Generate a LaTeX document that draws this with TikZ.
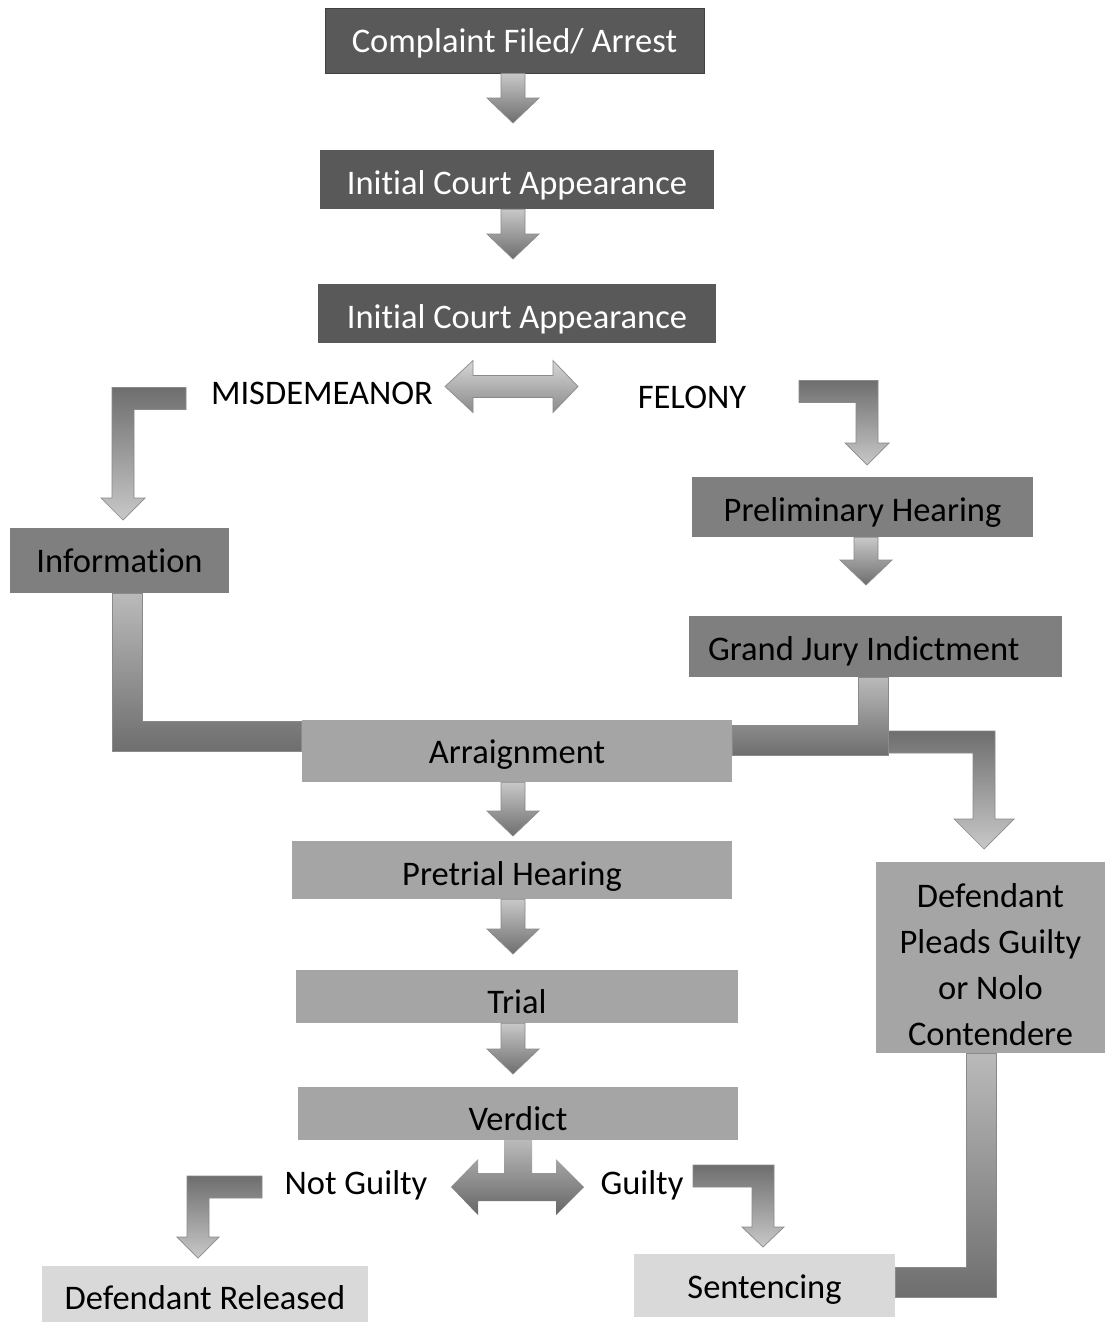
\documentclass[tikz,border=0pt]{standalone}
\usepackage{fontspec}
\setmainfont{Carlito}[Ligatures={NoCommon}]
\usetikzlibrary{calc}

\definecolor{boxdark}{HTML}{595959}
\definecolor{boxdarkline}{HTML}{3F3F3F}
\definecolor{boxmid}{HTML}{7F7F7F}
\definecolor{boxlight}{HTML}{A5A5A5}
\definecolor{boxpale}{HTML}{D9D9D9}
\definecolor{arrowline}{HTML}{8A8A8A}
\definecolor{shLight}{HTML}{C8C8C8}
\definecolor{shPale}{HTML}{D6D6D6}
\definecolor{shMid}{HTML}{BABABA}
\definecolor{shDark}{HTML}{6E6E6E}
\definecolor{shDeep}{HTML}{666666}

\tikzset{
  boxbase/.style={rectangle, inner sep=0pt, font=\fontsize{34.5}{46}\selectfont},
  % #1 moves the text baseline down by that many points
  box/.style={boxbase, text height={29pt+#1}, text depth={7pt-#1}},
  box/.default=0pt,
  darkbox/.style={box=#1, fill=boxdark, text=white},
  darkbox/.default=0pt,
  midbox/.style={box=#1, fill=boxmid},
  midbox/.default=0pt,
  lightbox/.style={box=#1, fill=boxlight},
  lightbox/.default=0pt,
  palebox/.style={box=#1, fill=boxpale},
  palebox/.default=0pt,
  lbl/.style={inner sep=0pt, font=\fontsize{34.5}{40}\selectfont, text height=29pt, text depth=7pt},
  downshade/.style={top color=shLight, bottom color=shDark, draw=arrowline, line width=0.7pt},
  bendshade/.style={top color=shDark, bottom color=shLight, draw=arrowline, line width=0.7pt},
  elbowshade/.style={top color=shMid, bottom color=shDark, draw=arrowline, line width=0.7pt},
  dblshade/.style={top color=shPale, bottom color=arrowline, draw=arrowline, line width=0.7pt},
  splitshade/.style={top color=shMid, bottom color=shDeep},
}

% straight block arrow going down from a box to a tip point
\newcommand\flowdown[2]{%
  \path[downshade] let \p1=(#1.south), \p2=(#2) in
    ({\x2-12pt},\y1) -- ({\x2+12pt},\y1) -- ({\x2+12pt},{\y2+25pt})
    -- ({\x2+26pt},{\y2+25pt}) -- (\x2,\y2) -- ({\x2-26pt},{\y2+25pt})
    -- ({\x2-12pt},{\y2+25pt}) -- cycle;}

% bent block arrow: horizontal bar from #2, turning down to the tip #3;
% #4 = -1 (bar runs left) or 1 (bar runs right), #5 head half-width, #6 head length
\newcommand\flowbend[6][]{%
  \path[bendshade,#1] let \p1=(#2), \p2=(#3) in
    (\x1,{\y1+11pt}) -- ({\x2+(#4)*11pt},{\y1+11pt}) -- ({\x2+(#4)*11pt},{\y2+#6})
    -- ({\x2+(#4)*#5},{\y2+#6}) -- (\x2,\y2) -- ({\x2-(#4)*#5},{\y2+#6})
    -- ({\x2-(#4)*11pt},{\y2+#6}) -- ({\x2-(#4)*11pt},{\y1-11pt}) -- (\x1,{\y1-11pt}) -- cycle;}

\begin{document}
\begin{tikzpicture}[x=1pt,y=-1pt]
\useasboundingbox (0,0) rectangle (1105,1322);
\fill[white] (0,0) rectangle (1105,1322);

% ---- boxes ----
\node[darkbox=1pt, draw=boxdarkline, line width=0.8pt, minimum width=379pt, minimum height=65pt] (cfa) at (514.5,40.5) {Complaint Filed/ Arrest};
\node[darkbox=4pt, minimum width=394pt, minimum height=59pt] (ica1) at (517,179.5) {Initial Court Appearance};
\node[darkbox=4pt, minimum width=398pt, minimum height=59pt] (ica2) at (517,313.5) {Initial Court Appearance};

\node[lbl] (mis) at (322,393) {MISDEMEANOR};
\node[lbl] (fel) at (692,397) {FELONY};

\node[midbox=1pt, minimum width=219pt, minimum height=65pt] (info) at (119.5,560.5) {Information};
\node[midbox=3pt, minimum width=341pt, minimum height=60pt] (prelim) at (862.5,507) {Preliminary Hearing};
\node[midbox=2.5pt, text width=335pt, inner xsep=19pt, align=left, minimum height=61pt] (gj) at (875.5,646.5)
  {\spaceskip=0pt\xspaceskip=0pt\relax Grand Jury Indictment};

\node[lightbox=1pt, minimum width=430pt, minimum height=62pt] (arr) at (517,751) {Arraignment};
\node[lightbox=4pt, minimum width=440pt, minimum height=58pt] (pre) at (512,870) {Pretrial Hearing};
\node[lightbox=5.5pt, minimum width=442pt, minimum height=53pt] (trial) at (517,996.5) {Trial};
\node[lightbox=6pt, minimum width=440pt, minimum height=53pt] (verdict) at (518,1113.5) {Verdict};
\node[boxbase, fill=boxlight, align=center, minimum width=229pt, minimum height=191pt] (def) at (990.5,957.5)
  {\rule{0pt}{38pt}Defendant\\Pleads Guilty\\or Nolo\\Contendere};

\node[lbl] (ng) at (356,1183) {Not Guilty};
\node[lbl] (g) at (642,1183) {Guilty};

\node[palebox, minimum width=326pt, minimum height=64pt] (rel) at (205,1298) {Defendant Released};
\node[palebox=1.5pt, minimum width=261pt, minimum height=63pt] (sent) at (764.5,1285.5) {Sentencing};

% ---- arrow end points ----
\coordinate (tCI) at (513,123);
\coordinate (tII) at (513,259);
\coordinate (tPG) at (866,585);
\coordinate (tAP) at (513,836);
\coordinate (tPT) at (513,954);
\coordinate (tTV) at (513,1074);

\coordinate (misbar) at (186,398.5);
\coordinate (mistip) at (123,520);
\coordinate (felbar) at (799,391.5);
\coordinate (feltip) at (867,465);
\coordinate (ngbar) at (262,1187);
\coordinate (ngtip) at (198,1258);
\coordinate (gbar) at (693,1176);
\coordinate (gtip) at (763,1247);
\coordinate (adtip) at (984,849);

\coordinate (dl) at (445,386.5);
\coordinate (dr) at (578,386.5);
\coordinate (vdl) at (451,1187);
\coordinate (vdr) at (584,1187);

\coordinate (bendI) at (127,736.5);
\coordinate (bendG) at (873,740);
\coordinate (bendD) at (981.5,1282.5);

% ---- straight arrows ----
\flowdown{cfa}{tCI}
\flowdown{ica1}{tII}
\flowdown{prelim}{tPG}
\flowdown{arr}{tAP}
\flowdown{pre}{tPT}
\flowdown{trial}{tTV}

% ---- misdemeanor / felony split ----
\path[dblshade] let \p1=(dl), \p2=(dr) in
  (\x1,\y1) -- ({\x1+28pt},{\y1+26pt}) -- ({\x1+28pt},{\y1+11pt}) -- ({\x2-25pt},{\y1+11pt})
  -- ({\x2-25pt},{\y1+26pt}) -- (\x2,\y1) -- ({\x2-25pt},{\y1-26pt}) -- ({\x2-25pt},{\y1-11pt})
  -- ({\x1+28pt},{\y1-11pt}) -- ({\x1+28pt},{\y1-26pt}) -- cycle;

\flowbend{misbar}{mistip}{-1}{22pt}{22pt}
\flowbend{felbar}{feltip}{1}{22pt}{22pt}

% ---- information into arraignment ----
\path[elbowshade] let \p1=(info.south), \p2=(bendI), \p3=(arr.west) in
  ({\x2-15pt},\y1) -- ({\x2+15pt},\y1) -- ({\x2+15pt},{\y2+15pt}) -- (\x3,{\y2+15pt})
  -- (\x3,{\y2-15pt}) -- ({\x2-15pt},{\y2-15pt}) -- cycle;

% ---- arraignment to guilty plea ----
\flowbend[top color=shDark, bottom color=shLight]{$(arr.east)+(0,-9)$}{adtip}{1}{30pt}{30pt}

% ---- indictment into arraignment ----
\path[top color=shMid, bottom color=shDark, draw=arrowline, line width=0.7pt]
  let \p1=(gj.south), \p2=(bendG), \p3=(arr.east) in
  ({\x2-15pt},\y1) -- ({\x2+15pt},\y1) -- ({\x2+15pt},{\y2-15pt}) -- (\x3,{\y2-15pt})
  -- (\x3,{\y2+15pt}) -- ({\x2-15pt},{\y2+15pt}) -- cycle;

% ---- guilty plea to sentencing ----
\path[elbowshade] let \p1=(def.south), \p2=(bendD), \p3=(sent.east) in
  ({\x2-15pt},\y1) -- ({\x2+15pt},\y1) -- ({\x2+15pt},{\y2-15pt}) -- (\x3,{\y2-15pt})
  -- (\x3,{\y2+15pt}) -- ({\x2-15pt},{\y2+15pt}) -- cycle;

% ---- verdict split ----
\path[splitshade] let \p1=(verdict.south), \p2=(vdl), \p3=(vdr) in
  ({\x1-14pt},\y1) -- ({\x1+14pt},\y1) -- ({\x1+14pt},{\y2+14pt}) -- ({\x3-28pt},{\y2+14pt})
  -- ({\x3-28pt},{\y2+28pt}) -- (\x3,\y2) -- ({\x3-28pt},{\y2-28pt}) -- ({\x3-28pt},{\y2-14pt})
  -- ({\x2+27pt},{\y2-14pt}) -- ({\x2+27pt},{\y2-28pt}) -- (\x2,\y2) -- ({\x2+27pt},{\y2+28pt})
  -- ({\x2+27pt},{\y2+14pt}) -- ({\x1-14pt},{\y2+14pt}) -- cycle;

\flowbend{ngbar}{ngtip}{-1}{21pt}{21pt}
\flowbend{gbar}{gtip}{1}{21pt}{20pt}
\end{tikzpicture}
\end{document}
